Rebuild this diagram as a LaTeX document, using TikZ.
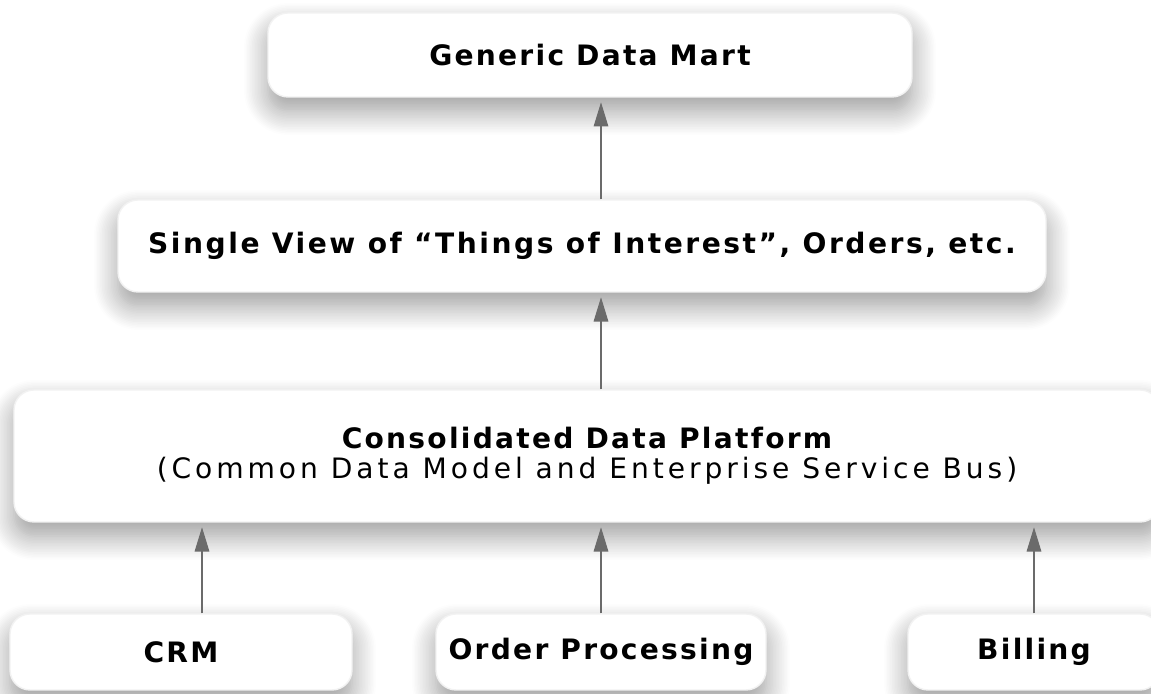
\documentclass[tikz,border=0pt]{standalone}
\usepackage{fontspec}
\setmainfont{DejaVu Sans}[LetterSpace=8]
\usetikzlibrary{arrows.meta,shadows.blur}
\colorlet{linkgray}{black!58}
\tikzset{
  box/.style = {draw=black!5, fill=white, rounded corners=2mm,
    inner sep=0pt, align=center,
    blur shadow={shadow xshift=0pt, shadow yshift=-1.4mm,
      shadow blur radius=2.4mm, shadow blur steps=16, shadow opacity=40}},
  boxtext/.style = {font=\fontsize{8}{8.4}\selectfont\bfseries},
  link/.style = {draw=linkgray, line width=0.85pt, shorten >=1.2pt,
    -{Triangle[width=4pt,length=7pt]}}
}
\begin{document}
\begin{tikzpicture}
  \useasboundingbox (0,0) rectangle (11.51,6.94);
  \node[box,boxtext,minimum width=6.44cm,minimum height=8.4mm] (mart)
    at (5.90,6.39) {Generic Data Mart};
  \node[box,boxtext,minimum width=9.28cm,minimum height=9.2mm] (single)
    at (5.82,4.48) {\addfontfeatures{LetterSpace=9}Single View of ``Things of Interest'', Orders, etc.};
  \node[box,boxtext,minimum width=11.46cm,minimum height=13.2mm] (platform)
    at (5.87,2.38) {Consolidated Data Platform\\
    {\mdseries\addfontfeatures{LetterSpace=14}(Common Data Model and Enterprise Service Bus)}};
  \node[box,boxtext,minimum width=3.42cm,minimum height=7.6mm] (crm)
    at (1.81,0.42) {CRM};
  \node[box,boxtext,minimum width=3.30cm,minimum height=7.6mm] (orders)
    at (6.01,0.42) {Order Processing};
  \node[box,boxtext,minimum width=2.52cm,minimum height=7.6mm] (billing)
    at (10.34,0.42) {Billing};

  % feeds into the platform
  \draw[link] ([xshift=2.1mm]crm.north) -- ([xshift=2.1mm]crm.north |- platform.south);
  \draw[link] (orders.north) -- (orders |- platform.south);
  \draw[link] (billing.north) -- (billing |- platform.south);
  % upward chain
  \draw[link] (platform.north -| orders) -- (single.south -| orders);
  \draw[link] (single.north -| orders) -- (mart.south -| orders);
\end{tikzpicture}
\end{document}
